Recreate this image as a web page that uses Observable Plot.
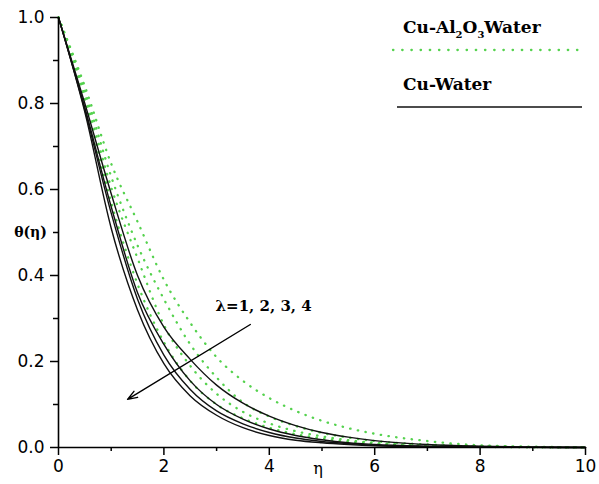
<!DOCTYPE html>
<html>
<head>
<meta charset="utf-8">
<script src="https://cdn.jsdelivr.net/npm/d3@7"></script>
<script src="https://cdn.jsdelivr.net/npm/@observablehq/plot@0.6"></script>
<style>
  html, body { margin: 0; padding: 0; background: #fff; }
  #chart svg { display: block; }
</style>
</head>
<body>
<div id="chart"></div>
<script>
// ---- data ----
const eta = [0, 0.5, 1, 1.5, 2, 2.5, 3, 3.5, 4, 4.5, 5, 5.5, 6, 7, 8, 9, 10];

// Cu-Water (solid black), lambda = 1..4
const cuWaterL1 = [1, 0.80, 0.59, 0.40, 0.28, 0.205, 0.145, 0.103, 0.073, 0.051, 0.035, 0.024, 0.016, 0.007, 0.003, 0.001, 0.0003];
const cuWaterL2 = [1, 0.79, 0.56, 0.36, 0.24, 0.155, 0.100, 0.066, 0.043, 0.028, 0.018, 0.011, 0.007, 0.003, 0.001, 0.0004, 0.0001];
const cuWaterL3 = [1, 0.785, 0.545, 0.345, 0.215, 0.135, 0.085, 0.055, 0.035, 0.022, 0.014, 0.009, 0.005, 0.002, 0.001, 0.0003, 0.0001];
const cuWaterL4 = [1, 0.78, 0.51, 0.32, 0.195, 0.12, 0.075, 0.046, 0.028, 0.017, 0.011, 0.007, 0.004, 0.0015, 0.0005, 0.0002, 0];

// Cu-Al2O3 Water (green dotted), lambda = 1..4
const cuAlWaterL1 = [1, 0.84, 0.66, 0.525, 0.39, 0.29, 0.21, 0.155, 0.115, 0.085, 0.062, 0.045, 0.032, 0.015, 0.005, 0.002, 0.0005];
const cuAlWaterL2 = [1, 0.83, 0.63, 0.47, 0.345, 0.24, 0.163, 0.105, 0.072, 0.050, 0.034, 0.023, 0.015, 0.007, 0.003, 0.001, 0.0003];
const cuAlWaterL3 = [1, 0.82, 0.605, 0.44, 0.285, 0.19, 0.125, 0.083, 0.056, 0.038, 0.026, 0.017, 0.011, 0.005, 0.002, 0.0008, 0.0002];
const cuAlWaterL4 = [1, 0.81, 0.57, 0.38, 0.245, 0.155, 0.10, 0.068, 0.046, 0.031, 0.021, 0.014, 0.009, 0.004, 0.0015, 0.0005, 0.0001];

const lambdas = [1, 2, 3, 4];
const xMajorTicks = [0, 2, 4, 6, 8, 10];
const xMinorTicks = [1, 3, 5, 7, 9];
const yMajorTicks = [0, 0.2, 0.4, 0.6, 0.8, 1.0];
const yMinorTicks = [0.1, 0.3, 0.5, 0.7, 0.9];

// annotation: arrow showing increasing lambda
const arrowFrom = {eta: 3.64, theta: 0.286};
const arrowTo = {eta: 1.31, theta: 0.112};
const lambdaLabel = {eta: 2.98, theta: 0.328, text: "λ=1, 2, 3, 4"};

const seriesCu = [cuWaterL1, cuWaterL2, cuWaterL3, cuWaterL4];
const seriesAl = [cuAlWaterL1, cuAlWaterL2, cuAlWaterL3, cuAlWaterL4];

const table = [];
lambdas.forEach((lam, i) => {
  eta.forEach((e, j) => {
    table.push({fluid: "Cu-Water", lambda: lam, eta: e, theta: seriesCu[i][j]});
    table.push({fluid: "Cu-Al2O3Water", lambda: lam, eta: e, theta: seriesAl[i][j]});
  });
});

const green = "#55d24e";

const chart = Plot.plot({
  width: 599,
  height: 484,
  marginLeft: 58,
  marginRight: 14,
  marginTop: 17,
  marginBottom: 37,
  style: {fontFamily: "DejaVu Sans", fontSize: "17px", color: "#000", background: "#fff"},
  x: {domain: [0, 10]},
  y: {domain: [0, 1]},
  marks: [
    Plot.line(table.filter(d => d.fluid === "Cu-Al2O3Water"), {
      x: "eta", y: "theta", z: "lambda", curve: "monotone-x",
      stroke: green, strokeWidth: 2.3, strokeDasharray: "0.4,7.4", strokeLinecap: "round"
    }),
    Plot.line(table.filter(d => d.fluid === "Cu-Water"), {
      x: "eta", y: "theta", z: "lambda", curve: "monotone-x",
      stroke: "#111", strokeWidth: 1.4
    }),
    Plot.ruleX([0], {stroke: "#000", strokeWidth: 1.6}),
    Plot.ruleY([0], {stroke: "#000", strokeWidth: 1.6}),
    Plot.axisX({ticks: xMinorTicks, tickSize: 4, tickFormat: () => "", label: null, strokeWidth: 1.5}),
    Plot.axisX({ticks: xMajorTicks, tickSize: 8, tickPadding: 4, tickFormat: d => String(d), label: null, strokeWidth: 1.5, fontSize: 17}),
    Plot.axisY({ticks: yMinorTicks, tickSize: 5, tickFormat: () => "", label: null, strokeWidth: 1.5}),
    Plot.axisY({ticks: yMajorTicks, tickSize: 8, tickPadding: 6, tickFormat: d3.format(".1f"), label: null, strokeWidth: 1.5, fontSize: 17}),
    Plot.arrow([{x1: arrowFrom.eta, y1: arrowFrom.theta, x2: arrowTo.eta, y2: arrowTo.theta}], {
      x1: "x1", y1: "y1", x2: "x2", y2: "y2", stroke: "#000", strokeWidth: 1.4, headLength: 11, headAngle: 40
    }),
    Plot.text([lambdaLabel], {
      x: "eta", y: "theta", text: "text", textAnchor: "start", lineAnchor: "middle",
      fontFamily: "DejaVu Serif", fontWeight: "bold", fontSize: 15, fill: "#000"
    }),
    Plot.text(["θ(η)"], {
      frameAnchor: "left", dx: -28, textAnchor: "middle",
      fontFamily: "DejaVu Serif", fontWeight: "bold", fontSize: 14, fill: "#000"
    }),
    Plot.text(["η"], {
      frameAnchor: "bottom", dx: -4, dy: 26, textAnchor: "middle",
      fontFamily: "DejaVu Serif", fontSize: 16, fill: "#000"
    })
  ]
});

// legend (top right, inside the plot area)
const svg = d3.select(chart);
const lg = svg.append("g")
  .attr("font-family", "DejaVu Serif").attr("font-weight", "bold")
  .attr("fill", "#000").attr("text-anchor", "start");
const t1 = lg.append("text").attr("x", 403).attr("y", 33).attr("font-size", 17).attr("text-anchor", "start");
t1.append("tspan").text("Cu-Al");
t1.append("tspan").attr("font-size", 10).attr("dy", 5).text("2");
t1.append("tspan").attr("dy", -5).text("O");
t1.append("tspan").attr("font-size", 10).attr("dy", 5).text("3");
t1.append("tspan").attr("dy", -5).text("Water");
lg.append("line").attr("x1", 393).attr("x2", 578).attr("y1", 50).attr("y2", 50)
  .attr("stroke", green).attr("stroke-width", 2.3).attr("stroke-dasharray", "0.4,8.8").attr("stroke-linecap", "round");
lg.append("text").attr("x", 403).attr("y", 90).attr("font-size", 17).attr("text-anchor", "start").text("Cu-Water");
lg.append("line").attr("x1", 397).attr("x2", 582).attr("y1", 107).attr("y2", 107)
  .attr("stroke", "#111").attr("stroke-width", 1.5);

document.getElementById("chart").appendChild(chart);
</script>
</body>
</html>
